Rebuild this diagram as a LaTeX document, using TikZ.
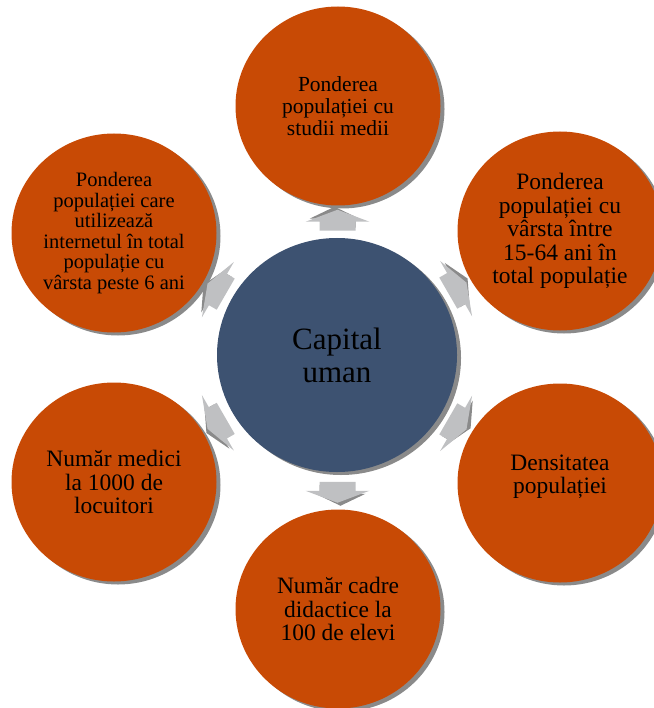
\documentclass[tikz,border=0pt]{standalone}
\usepackage{fontspec}
\setmainfont{Liberation Serif}
\usetikzlibrary{shapes.geometric,shadows,calc}
\definecolor{rust}{HTML}{C84A05}
\definecolor{slate}{HTML}{3D5271}
\definecolor{arrowgray}{HTML}{BFC0C2}
\definecolor{shadegray}{HTML}{8A8A8A}
\tikzset{
  ring/.style={ellipse, fill=rust, minimum width=205pt, minimum height=199pt,
    align=center, inner sep=0pt, text=black,
    drop shadow={shadow xshift=4pt, shadow yshift=-3pt, fill=shadegray, opacity=1}},
  small/.style={font=\fontsize{20.5}{20.6}\selectfont},
  mid/.style={font=\fontsize{21.5}{22}\selectfont},
  large/.style={font=\fontsize{23.5}{23.5}\selectfont},
  pics/outarrow/.style={code={
    \fill[shadegray] (-6,-15) -- (3,-15) -- (3,-28) -- (15,-3) -- (3,22) -- (3,18) -- (-6,18) -- cycle;
    \fill[arrowgray] (-9,-18) -- (0,-18) -- (0,-32) -- (12,0) -- (0,32) -- (0,18) -- (-9,18) -- cycle;
  }}
}
\begin{document}
\begin{tikzpicture}[x=1pt,y=-1pt]
  \useasboundingbox (0,0) rectangle (653,708);
  % centre
  \node[ellipse, fill=slate, minimum width=240pt, minimum height=234pt, align=center,
    font=\fontsize{31}{33}\selectfont,
    drop shadow={shadow xshift=4pt, shadow yshift=-3pt, fill=shadegray, opacity=1}]
    (hub) at (337,355) {Capital\\uman};
  % outer ring
  \node[ring, mid] (top) at (338,106) {Ponderea\\populației cu\\studii medii};
  \node[ring, large] (tr) at (560,231) {Ponderea\\populației cu\\vârsta între\\15-64 ani în\\total populație};
  \node[ring, large] (br) at (560,483) {Densitatea\\populației\\[-6pt]};
  \node[ring, large] (bot) at (338,609) {Număr cadre\\didactice la\\100 de elevi};
  \node[ring, large] (bl) at (114,482) {Număr medici\\la 1000 de\\locuitori};
  \node[ring, small] (tl) at (114,233) {Ponderea\\populației care\\utilizează\\internetul în total\\populație cu\\vârsta peste 6 ani};
  % arrows
  \foreach \ang/\other/\back in {90/top/270, 30/tr/210, -30/br/150,
      -90/bot/90, -150/bl/30, 150/tl/-30}
    \pic[rotate=\ang] at ($(hub.\ang)!0.5!(\other.\back)$) {outarrow};
\end{tikzpicture}
\end{document}
